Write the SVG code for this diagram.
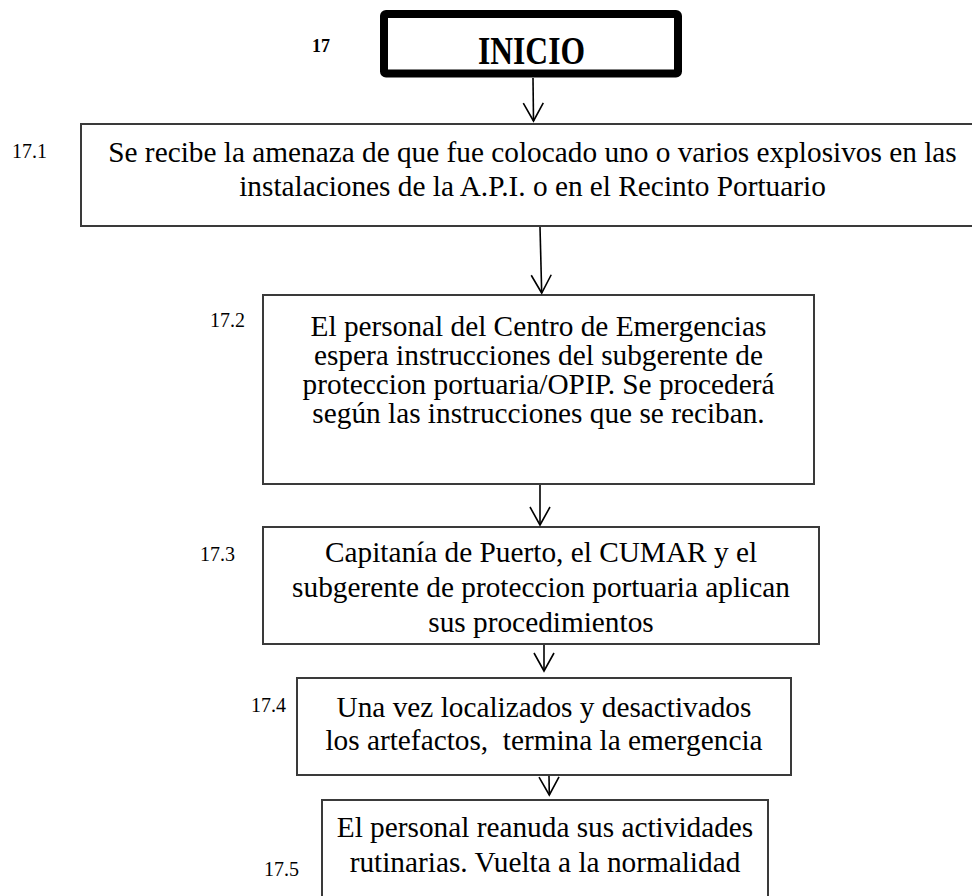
<svg xmlns="http://www.w3.org/2000/svg" width="972" height="896" viewBox="0 0 972 896">
<style>
.box{fill:#fff;stroke:#3a3a3a;stroke-width:2}
.t{font-family:"Liberation Serif","Times New Roman",serif;font-size:29.3px;fill:#000;text-anchor:middle}
.lbl{font-family:"Liberation Serif","Times New Roman",serif;font-size:20px;fill:#000}
.con{fill:none;stroke:#000;stroke-width:1.6}
</style>
<defs>
<marker id="arr" markerUnits="userSpaceOnUse" markerWidth="24" markerHeight="24" refX="18" refY="0" orient="auto" overflow="visible" viewBox="-2 -12 24 24">
<path d="M0,-10 L18,0 L0,10" fill="none" stroke="#000" stroke-width="1.6"/>
</marker>
</defs>
<rect width="972" height="896" fill="#fff"/>

<g id="start">
<text x="312" y="52" style="font-family:'Liberation Serif',serif;font-size:18px;font-weight:bold">17</text>
<rect x="384" y="14" width="294" height="59.5" rx="2" fill="#fff" stroke="#000" stroke-width="8"/>
<text x="478" y="64" textLength="107" lengthAdjust="spacingAndGlyphs" style="font-family:'Liberation Serif',serif;font-size:40px;font-weight:bold">INICIO</text>
</g>

<g id="step171">
<text class="lbl" x="12" y="158">17.1</text>
<rect class="box" x="81" y="124" width="903" height="102"/>
<text class="t" x="532.5" y="161.5">Se recibe la amenaza de que fue colocado uno o varios explosivos en las</text>
<text class="t" x="532.5" y="196">instalaciones de la A.P.I. o en el Recinto Portuario</text>
</g>

<g id="step172">
<text class="lbl" x="210" y="326.5">17.2</text>
<rect class="box" x="263" y="295" width="551" height="189"/>
<text class="t" x="538.5" y="336">El personal del Centro de Emergencias</text>
<text class="t" x="538.5" y="365">espera instrucciones del subgerente de</text>
<text class="t" x="538.5" y="394">proteccion portuaria/OPIP. Se procederá</text>
<text class="t" x="538.5" y="423">según las instrucciones que se reciban.</text>
</g>

<g id="step173">
<text class="lbl" x="200" y="561">17.3</text>
<rect class="box" x="263" y="527" width="556" height="117"/>
<text class="t" x="541" y="561.5">Capitanía de Puerto, el CUMAR y el</text>
<text class="t" x="541" y="596.5">subgerente de proteccion portuaria aplican</text>
<text class="t" x="541" y="631.5">sus procedimientos</text>
</g>

<g id="step174">
<text class="lbl" x="251" y="711.5">17.4</text>
<rect class="box" x="297" y="678" width="494" height="97"/>
<text class="t" x="544" y="716.5">Una vez localizados y desactivados</text>
<text class="t" x="544" y="750" xml:space="preserve">los artefactos,  termina la emergencia</text>
</g>

<g id="step175">
<text class="lbl" x="264" y="876">17.5</text>
<rect class="box" x="322" y="800" width="446" height="120"/>
<text class="t" x="545" y="836.5">El personal reanuda sus actividades</text>
<text class="t" x="545" y="871.5">rutinarias. Vuelta a la normalidad</text>
</g>

<g id="connectors">
<line class="con" x1="533" y1="78" x2="533.5" y2="121" marker-end="url(#arr)"/>
<line class="con" x1="540" y1="227" x2="541.7" y2="293" marker-end="url(#arr)"/>
<line class="con" x1="540" y1="485" x2="540" y2="525" marker-end="url(#arr)"/>
<line class="con" x1="544" y1="645" x2="544" y2="671" marker-end="url(#arr)"/>
<line class="con" x1="549" y1="776" x2="549.3" y2="795" marker-end="url(#arr)"/>
</g>
</svg>
